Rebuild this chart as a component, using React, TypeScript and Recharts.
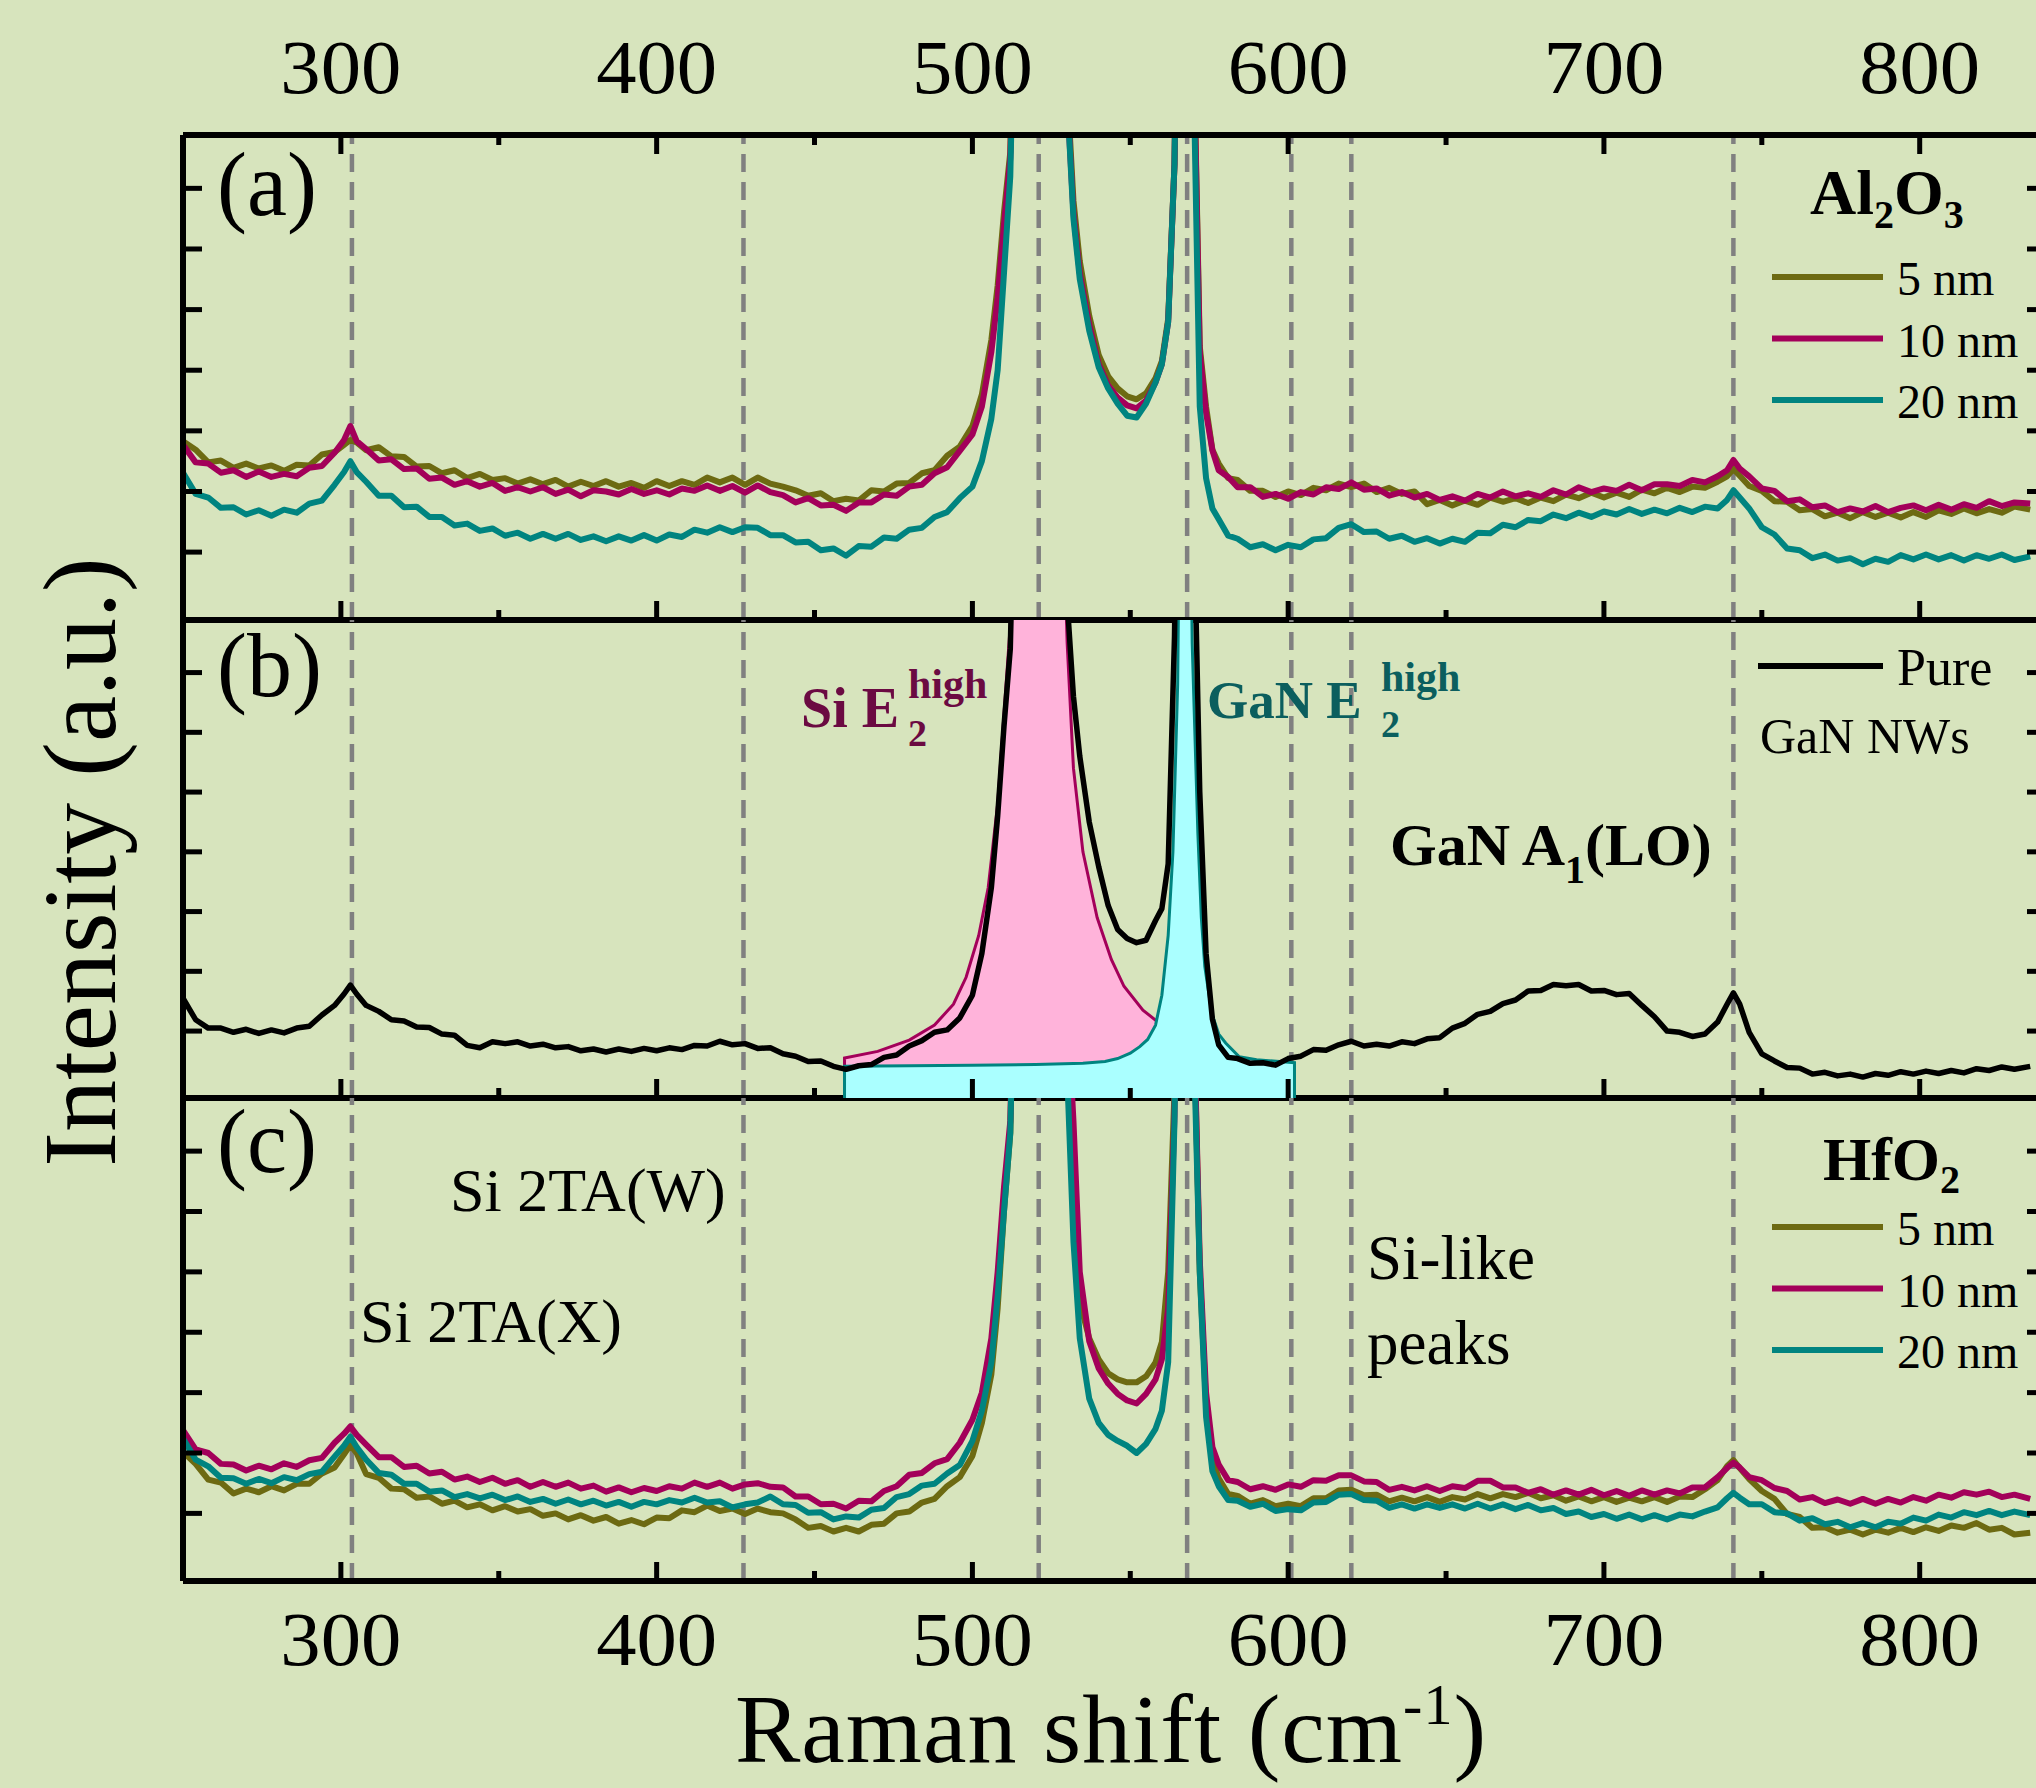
import React from 'react';
import { ComposedChart, Line, Area, XAxis, YAxis, ReferenceLine } from 'recharts';

// Raman shift grid (cm-1) shared by all measured spectra
const RAMAN_SHIFT = [
  250, 254, 258, 262, 266, 270, 274, 278, 282, 286,
  290, 294, 298, 301, 303, 305, 308, 312, 316, 320,
  324, 328, 332, 336, 340, 344, 348, 352, 356, 360,
  364, 368, 372, 376, 380, 384, 388, 392, 396, 400,
  404, 408, 412, 416, 420, 424, 428, 432, 436, 440,
  444, 448, 452, 456, 460, 464, 468, 472, 476, 480,
  484, 488, 492, 496, 500, 503, 506, 508, 510, 512,
  514, 521, 528, 530, 532, 534, 537, 540, 543, 546,
  549, 552, 555, 558, 560, 562, 564, 566, 568, 570,
  572, 574, 576, 578, 581, 584, 588, 592, 596, 600,
  604, 608, 612, 616, 620, 624, 628, 632, 636, 640,
  644, 648, 652, 656, 660, 664, 668, 672, 676, 680,
  684, 688, 692, 696, 700, 704, 708, 712, 716, 720,
  724, 728, 732, 736, 739, 741, 743, 746, 750, 754,
  758, 762, 766, 770, 774, 778, 782, 786, 790, 794,
  798, 802, 806, 810, 814, 818, 822, 826, 830, 835,
];

// (a) Al2O3 coated
const AL2O3_5NM = [
  2.83, 2.69, 2.48, 2.51, 2.39, 2.46, 2.38, 2.43, 2.34, 2.44,
  2.43, 2.61, 2.65, 2.77, 2.85, 2.81, 2.68, 2.73, 2.58, 2.57,
  2.41, 2.42, 2.30, 2.35, 2.22, 2.29, 2.19, 2.22, 2.13, 2.20,
  2.12, 2.19, 2.08, 2.16, 2.09, 2.17, 2.08, 2.14, 2.06, 2.17,
  2.09, 2.17, 2.11, 2.23, 2.15, 2.23, 2.11, 2.23, 2.13, 2.08,
  2.02, 1.93, 1.97, 1.84, 1.88, 1.85, 2.02, 2.00, 2.13, 2.14,
  2.30, 2.35, 2.59, 2.74, 3.08, 3.6, 4.5, 5.4, 6.6, 7.6,
  12, 40, 12, 8.7, 6.8, 5.8, 4.9, 4.25, 3.9, 3.7,
  3.57, 3.52, 3.62, 3.87, 4.15, 4.85, 7.4, 15, 30, 9.6,
  4.4, 3.4, 2.69, 2.46, 2.22, 2.19, 2.01, 2.01, 1.91, 2.00,
  1.94, 2.06, 2.02, 2.13, 2.07, 2.13, 1.99, 2.06, 1.96, 2.00,
  1.79, 1.86, 1.77, 1.85, 1.78, 1.90, 1.83, 1.89, 1.81, 1.90,
  1.84, 1.95, 1.89, 1.98, 1.90, 1.98, 1.91, 2.03, 1.97, 2.06,
  1.99, 2.08, 2.06, 2.16, 2.25, 2.37, 2.26, 2.09, 2.01, 1.84,
  1.83, 1.69, 1.71, 1.59, 1.65, 1.56, 1.66, 1.58, 1.65, 1.57,
  1.66, 1.58, 1.69, 1.63, 1.72, 1.64, 1.71, 1.65, 1.75, 1.70,
];
const AL2O3_10NM = [
  2.77, 2.48, 2.46, 2.31, 2.35, 2.24, 2.33, 2.24, 2.29, 2.25,
  2.39, 2.42, 2.64, 2.85, 3.08, 2.83, 2.70, 2.51, 2.53, 2.37,
  2.38, 2.21, 2.23, 2.11, 2.17, 2.08, 2.14, 2.01, 2.07, 2.00,
  2.07, 1.96, 2.03, 1.92, 2.02, 2.00, 1.95, 2.04, 1.96, 2.02,
  1.95, 2.05, 2.01, 2.10, 2.01, 2.09, 1.98, 2.10, 1.99, 1.94,
  1.82, 1.89, 1.77, 1.78, 1.68, 1.82, 1.82, 1.95, 1.93, 2.08,
  2.11, 2.30, 2.40, 2.67, 2.94, 3.4, 4.3, 5.2, 6.4, 7.5,
  12, 40, 12, 8.5, 6.6, 5.6, 4.75, 4.1, 3.75, 3.55,
  3.42, 3.37, 3.5, 3.8, 4.1, 4.8, 7.4, 15, 30, 9.5,
  4.3, 3.3, 2.68, 2.35, 2.24, 2.07, 2.07, 1.91, 1.96, 1.88,
  1.99, 1.95, 2.07, 2.04, 2.15, 2.03, 2.05, 1.93, 1.99, 1.90,
  1.96, 1.86, 1.92, 1.85, 1.96, 1.90, 2.00, 1.92, 1.97, 1.91,
  2.02, 1.95, 2.07, 1.99, 2.05, 2.01, 2.11, 2.02, 2.12, 2.12,
  2.09, 2.19, 2.15, 2.25, 2.35, 2.52, 2.38, 2.25, 2.05, 2.01,
  1.84, 1.87, 1.74, 1.77, 1.66, 1.72, 1.67, 1.76, 1.66, 1.73,
  1.77, 1.69, 1.78, 1.70, 1.79, 1.73, 1.84, 1.76, 1.82, 1.80,
];
const AL2O3_20NM = [
  2.31, 1.96, 1.90, 1.73, 1.74, 1.62, 1.69, 1.60, 1.70, 1.65,
  1.80, 1.85, 2.11, 2.32, 2.50, 2.32, 2.16, 1.93, 1.93, 1.74,
  1.75, 1.58, 1.58, 1.44, 1.47, 1.35, 1.39, 1.27, 1.32, 1.22,
  1.30, 1.22, 1.30, 1.20, 1.26, 1.18, 1.26, 1.19, 1.28, 1.19,
  1.29, 1.25, 1.37, 1.32, 1.41, 1.33, 1.41, 1.40, 1.28, 1.28,
  1.16, 1.17, 1.03, 1.06, 0.94, 1.10, 1.09, 1.24, 1.22, 1.37,
  1.40, 1.58, 1.66, 1.89, 2.08, 2.5, 3.2, 4.0, 5.6, 7.2,
  12, 40, 12, 8.5, 6.5, 5.5, 4.65, 4.05, 3.7, 3.45,
  3.25, 3.22, 3.45, 3.8, 4.1, 4.8, 7.4, 15, 30, 9.0,
  3.4, 2.22, 1.72, 1.54, 1.27, 1.22, 1.08, 1.13, 1.03, 1.12,
  1.08, 1.21, 1.23, 1.40, 1.46, 1.33, 1.34, 1.22, 1.27, 1.17,
  1.23, 1.14, 1.22, 1.17, 1.32, 1.31, 1.45, 1.41, 1.53, 1.51,
  1.62, 1.56, 1.65, 1.58, 1.67, 1.62, 1.71, 1.63, 1.70, 1.64,
  1.73, 1.66, 1.75, 1.72, 1.86, 2.02, 1.90, 1.72, 1.41, 1.29,
  1.06, 1.03, 0.90, 0.96, 0.86, 0.90, 0.80, 0.89, 0.84, 0.95,
  0.88, 0.96, 0.88, 0.95, 0.86, 0.95, 0.89, 0.96, 0.87, 0.93,
];

// (b) pure GaN nanowires
const PURE_GAN = [
  1.55, 1.19, 1.05, 1.05, 0.98, 1.03, 0.96, 1.02, 0.97, 1.05,
  1.08, 1.27, 1.43, 1.62, 1.77, 1.62, 1.43, 1.33, 1.19, 1.17,
  1.07, 1.06, 0.95, 0.93, 0.76, 0.72, 0.82, 0.79, 0.82, 0.75,
  0.78, 0.72, 0.74, 0.67, 0.70, 0.65, 0.70, 0.66, 0.71, 0.67,
  0.72, 0.69, 0.76, 0.75, 0.83, 0.77, 0.79, 0.71, 0.72, 0.62,
  0.58, 0.49, 0.50, 0.41, 0.36, 0.42, 0.44, 0.56, 0.60, 0.75,
  0.84, 0.98, 1.02, 1.22, 1.60, 2.3, 3.4, 4.6, 6.1, 7.4,
  12, 40, 12, 8.2, 6.6, 5.6, 4.5, 3.75, 3.1, 2.7,
  2.55, 2.48, 2.52, 2.85, 3.05, 3.8, 7.6, 15, 30, 10,
  5.0, 2.3, 1.2, 0.77, 0.56, 0.54, 0.46, 0.47, 0.43, 0.54,
  0.58, 0.69, 0.68, 0.77, 0.83, 0.75, 0.78, 0.75, 0.82, 0.79,
  0.87, 0.89, 1.05, 1.13, 1.28, 1.33, 1.46, 1.52, 1.67, 1.68,
  1.78, 1.76, 1.78, 1.67, 1.68, 1.61, 1.63, 1.43, 1.24, 1.00,
  0.98, 0.91, 0.95, 1.15, 1.45, 1.64, 1.45, 0.98, 0.62, 0.50,
  0.39, 0.38, 0.28, 0.31, 0.25, 0.28, 0.23, 0.29, 0.26, 0.32,
  0.28, 0.33, 0.29, 0.34, 0.30, 0.37, 0.34, 0.40, 0.36, 0.41,
];
// Lorentzian fits drawn in (b)
const SI_FIT_X = [459.5, 459.5, 470, 480, 488, 494, 498, 502, 505, 508, 510, 512, 514, 521, 528, 530, 532, 535, 539.5, 544, 548, 554, 560, 566, 572, 580, 580];
const SI_FIT_Y = [-0.12, 0.55, 0.66, 0.85, 1.1, 1.45, 1.9, 2.6, 3.4, 4.8, 6.3, 7.8, 11, 40, 11, 7.5, 5.4, 4.0, 2.9, 2.2, 1.75, 1.35, 1.1, 0.95, 0.82, 0.7, -0.12];
const GAN_FIT_X = [459.5, 459.5, 480, 500, 520, 535, 542, 546, 550, 553, 555.5, 558, 560, 562, 563.5, 565, 566, 567.3, 568.6, 569.6, 571.4, 572.5, 573.6, 575.8, 578, 580.2, 584.5, 590, 602, 602];
const GAN_FIT_Y = [-0.12, 0.41, 0.42, 0.43, 0.44, 0.46, 0.49, 0.54, 0.63, 0.74, 0.86, 1.1, 1.6, 2.6, 4.0, 6.8, 12, 40, 12, 7.5, 4.31, 2.9, 2.08, 1.30, 0.95, 0.80, 0.57, 0.52, 0.47, -0.12];

// (c) HfO2 coated
const HFO2_5NM = [
  2.02, 1.82, 1.56, 1.51, 1.33, 1.41, 1.35, 1.45, 1.38, 1.49,
  1.49, 1.66, 1.76, 1.98, 2.13, 2.00, 1.65, 1.59, 1.41, 1.40,
  1.26, 1.28, 1.16, 1.21, 1.10, 1.15, 1.05, 1.12, 1.03, 1.07,
  0.96, 1.00, 0.90, 0.97, 0.88, 0.94, 0.83, 0.89, 0.82, 0.93,
  0.92, 1.05, 1.02, 1.13, 1.04, 1.08, 0.99, 1.08, 1.02, 1.00,
  0.90, 0.76, 0.79, 0.70, 0.76, 0.70, 0.81, 0.83, 1.00, 1.03,
  1.18, 1.24, 1.45, 1.60, 1.95, 2.5, 3.3, 4.4, 6.0, 7.3,
  12, 40, 12, 8.5, 6.0, 4.5, 3.9, 3.55, 3.32, 3.22,
  3.17, 3.17, 3.27, 3.5, 3.84, 5.0, 8.0, 15, 30, 9.5,
  5.0, 2.8, 1.9, 1.58, 1.32, 1.29, 1.16, 1.22, 1.12, 1.16,
  1.12, 1.25, 1.25, 1.38, 1.39, 1.30, 1.31, 1.20, 1.26, 1.20,
  1.27, 1.19, 1.27, 1.23, 1.32, 1.25, 1.32, 1.27, 1.34, 1.25,
  1.30, 1.21, 1.28, 1.20, 1.27, 1.19, 1.26, 1.20, 1.27, 1.19,
  1.28, 1.27, 1.40, 1.55, 1.78, 1.88, 1.75, 1.57, 1.37, 1.24,
  0.99, 0.94, 0.76, 0.77, 0.68, 0.73, 0.65, 0.73, 0.68, 0.76,
  0.69, 0.77, 0.71, 0.80, 0.76, 0.84, 0.73, 0.76, 0.65, 0.68,
];
const HFO2_10NM = [
  2.38, 2.06, 2.00, 1.82, 1.81, 1.71, 1.79, 1.73, 1.83, 1.77,
  1.88, 1.92, 2.17, 2.32, 2.44, 2.30, 2.14, 1.93, 1.93, 1.77,
  1.79, 1.66, 1.69, 1.56, 1.61, 1.52, 1.59, 1.49, 1.55, 1.44,
  1.52, 1.44, 1.51, 1.41, 1.46, 1.36, 1.43, 1.35, 1.42, 1.37,
  1.45, 1.41, 1.51, 1.44, 1.51, 1.41, 1.48, 1.50, 1.44, 1.43,
  1.28, 1.28, 1.15, 1.16, 1.08, 1.21, 1.20, 1.37, 1.45, 1.64,
  1.67, 1.83, 1.90, 2.17, 2.55, 3.0, 3.9, 5.0, 6.4, 7.5,
  12, 40, 12, 9.5, 7.5, 5.0, 3.85, 3.4, 3.15, 2.98,
  2.87, 2.82, 2.98, 3.22, 3.55, 4.4, 7.6, 15, 30, 9.5,
  5.2, 3.0, 2.1, 1.81, 1.55, 1.52, 1.40, 1.45, 1.39, 1.48,
  1.44, 1.55, 1.54, 1.63, 1.63, 1.53, 1.52, 1.39, 1.44, 1.38,
  1.45, 1.37, 1.45, 1.42, 1.54, 1.54, 1.43, 1.43, 1.34, 1.40,
  1.31, 1.38, 1.31, 1.39, 1.30, 1.37, 1.29, 1.38, 1.31, 1.38,
  1.33, 1.43, 1.43, 1.60, 1.75, 1.84, 1.76, 1.60, 1.55, 1.42,
  1.37, 1.23, 1.27, 1.17, 1.23, 1.16, 1.24, 1.16, 1.24, 1.18,
  1.27, 1.21, 1.31, 1.26, 1.35, 1.31, 1.36, 1.27, 1.31, 1.24,
];
const HFO2_20NM = [
  2.24, 1.89, 1.78, 1.59, 1.58, 1.49, 1.57, 1.50, 1.60, 1.55,
  1.65, 1.69, 1.94, 2.12, 2.27, 2.10, 1.89, 1.67, 1.64, 1.49,
  1.49, 1.36, 1.38, 1.27, 1.32, 1.25, 1.31, 1.22, 1.28, 1.19,
  1.24, 1.16, 1.23, 1.15, 1.21, 1.13, 1.19, 1.11, 1.19, 1.15,
  1.22, 1.18, 1.26, 1.18, 1.20, 1.10, 1.15, 1.18, 1.28, 1.15,
  1.14, 1.01, 1.02, 0.90, 0.95, 0.93, 1.06, 1.09, 1.27, 1.32,
  1.46, 1.49, 1.66, 1.80, 2.2, 2.7, 3.5, 4.6, 6.0, 7.3,
  12, 40, 12, 8.3, 5.5, 3.9, 2.9, 2.5, 2.3, 2.2,
  2.12, 2.0, 2.15, 2.4, 2.7, 3.5, 7.5, 15, 30, 9.0,
  5.0, 2.6, 1.7, 1.45, 1.22, 1.21, 1.11, 1.16, 1.04, 1.07,
  1.05, 1.18, 1.19, 1.31, 1.32, 1.22, 1.21, 1.09, 1.15, 1.08,
  1.15, 1.09, 1.15, 1.08, 1.16, 1.08, 1.15, 1.07, 1.14, 1.05,
  1.09, 0.99, 1.03, 0.94, 0.99, 0.91, 0.98, 0.90, 0.97, 0.90,
  0.98, 0.95, 1.03, 1.10, 1.25, 1.34, 1.26, 1.15, 1.15, 1.02,
  1.00, 0.88, 0.92, 0.82, 0.86, 0.77, 0.84, 0.77, 0.86, 0.83,
  0.93, 0.88, 0.98, 0.93, 1.02, 0.97, 1.04, 0.97, 1.03, 0.97,
];

const X_TICKS = [300, 350, 400, 450, 500, 550, 600, 650, 700, 750, 800];
const Y_TICKS = [1, 2, 3, 4, 5, 6, 7];
const X_DOMAIN: [number, number] = [250, 840];
const Y_DOMAIN: [number, number] = [-0.12, 7.88];
const PEAK_LINES = [303.5, 427.5, 521, 568, 601, 620, 741];
const THICKNESS = ['5 nm', '10 nm', '20 nm'];

const BG = '#d7e4bd';
const C5 = '#6d6a12';
const C10 = '#a3005a';
const C20 = '#008480';
const SERIES_COLORS = [C5, C10, C20];
const FONT = "'Liberation Serif', 'Times New Roman', serif";

const rowsA = RAMAN_SHIFT.map((x, i) => ({ x, s5: AL2O3_5NM[i], s10: AL2O3_10NM[i], s20: AL2O3_20NM[i] }));
const rowsB = RAMAN_SHIFT.map((x, i) => ({ x, pure: PURE_GAN[i] }));
const rowsC = RAMAN_SHIFT.map((x, i) => ({ x, s5: HFO2_5NM[i], s10: HFO2_10NM[i], s20: HFO2_20NM[i] }));
const siFit = SI_FIT_X.map((x, i) => ({ x, y: SI_FIT_Y[i] }));
const ganFit = GAN_FIT_X.map((x, i) => ({ x, y: GAN_FIT_Y[i] }));

const XTick = (props: any) => {
  const { x, y, payload, side, labels } = props;
  const v = payload.value;
  const major = v % 100 === 0;
  const len = major ? 19 : 10;
  const dir = side === 'top' ? 1 : -1;
  return (
    <g>
      <line x1={x} y1={y} x2={x} y2={y + dir * len} stroke="#000" strokeWidth={5} />
      {labels && major ? (
        <text x={x} y={side === 'top' ? y - 42 : y + 84} textAnchor="middle" fontFamily={FONT} fontSize={76} fill="#000"
          textLength={121} lengthAdjust="spacingAndGlyphs">
          {v}
        </text>
      ) : null}
    </g>
  );
};

const YTick = (props: any) => {
  const { x, y, side } = props;
  const dir = side === 'left' ? 1 : -1;
  return <line x1={x} y1={y} x2={x + dir * 19} y2={y} stroke="#000" strokeWidth={5} />;
};

const axisLine = { stroke: '#000', strokeWidth: 6 };

const frameAxes = (topAxis: boolean, topLabels: boolean, bottomLabels: boolean) => {
  const list = [
    <XAxis key="xb" xAxisId={0} type="number" dataKey="x" domain={X_DOMAIN} allowDataOverflow ticks={X_TICKS} interval={0}
      height={1} tickSize={0} tickMargin={0} tickLine={false} axisLine={axisLine}
      tick={<XTick side="bottom" labels={bottomLabels} />} />,
    <YAxis key="yl" yAxisId={0} type="number" domain={Y_DOMAIN} allowDataOverflow ticks={Y_TICKS} interval={0}
      width={1} tickSize={0} tickMargin={0} tickLine={false} axisLine={axisLine} tick={<YTick side="left" />} />,
    <YAxis key="yr" yAxisId="r" orientation="right" type="number" domain={Y_DOMAIN} allowDataOverflow ticks={Y_TICKS} interval={0}
      width={1} tickSize={0} tickMargin={0} tickLine={false} axisLine={axisLine} tick={<YTick side="right" />} />,
  ];
  if (topAxis) {
    list.push(
      <XAxis key="xt" xAxisId="top" orientation="top" type="number" dataKey="x" domain={X_DOMAIN} allowDataOverflow ticks={X_TICKS} interval={0}
        height={1} tickSize={0} tickMargin={0} tickLine={false} axisLine={axisLine}
        tick={<XTick side="top" labels={topLabels} />} />
    );
  }
  return list;
};

const peakLines = () =>
  PEAK_LINES.map((p) => (
    <ReferenceLine key={`p${p}`} x={p} xAxisId={0} yAxisId={0} stroke="#808080" strokeWidth={4.5} strokeDasharray="18 10" zIndex={50} />
  ));

const spectra = () =>
  ['s5', 's10', 's20'].map((k, i) => (
    <Line key={k} xAxisId={0} yAxisId={0} type="linear" dataKey={k} stroke={SERIES_COLORS[i]} strokeWidth={6}
      dot={false} activeDot={false} isAnimationActive={false} strokeLinejoin="round" />
  ));

const LegendItems = ({ y }: { y: number }) => (
  <g>
    {THICKNESS.map((t, i) => (
      <g key={t}>
        <line x1={1772} x2={1883} y1={y + 61 + i * 61.5} y2={y + 61 + i * 61.5} stroke={SERIES_COLORS[i]} strokeWidth={6} />
        <text x={1897} y={y + 79 + i * 61.5} fontFamily={FONT} fontSize={48} fill="#000">{t}</text>
      </g>
    ))}
  </g>
);

export default function App() {
  return (
    <div style={{ position: 'absolute', left: 0, top: 0, width: 2036, height: 1788, background: BG, overflow: 'hidden' }}>
      <div style={{ position: 'absolute', left: 0, top: 0, width: 2036, height: 640, overflow: 'hidden' }}>
        <ComposedChart width={2060} height={640} data={rowsA} margin={{ top: 134, right: 13, bottom: 19, left: 182 }}>
          {frameAxes(true, true, false)}
          {peakLines()}
          {spectra()}
        </ComposedChart>
      </div>
      <div style={{ position: 'absolute', left: 0, top: 600, width: 2036, height: 520, overflow: 'hidden' }}>
        <ComposedChart width={2060} height={520} data={rowsB} margin={{ top: 20, right: 13, bottom: 21, left: 182 }}>
          {frameAxes(false, false, false)}
          {peakLines()}
          <Area xAxisId={0} yAxisId={0} data={siFit} type="linear" dataKey="y" baseValue="dataMin" stroke={C10} strokeWidth={3}
            fill="#ffb3da" fillOpacity={1} dot={false} activeDot={false} isAnimationActive={false} zIndex={600} />
          <Area xAxisId={0} yAxisId={0} data={ganFit} type="linear" dataKey="y" baseValue="dataMin" stroke={C20} strokeWidth={3}
            fill="#aaffff" fillOpacity={1} dot={false} activeDot={false} isAnimationActive={false} zIndex={610} />
          <Line xAxisId={0} yAxisId={0} type="linear" dataKey="pure" stroke="#000" strokeWidth={5.5} dot={false} activeDot={false}
            isAnimationActive={false} strokeLinejoin="round" zIndex={700} />
        </ComposedChart>
      </div>
      <div style={{ position: 'absolute', left: 0, top: 1078, width: 2036, height: 710, overflow: 'hidden' }}>
        <ComposedChart width={2060} height={710} data={rowsC} margin={{ top: 20, right: 13, bottom: 206, left: 182 }}>
          {frameAxes(false, false, true)}
          {peakLines()}
          {spectra()}
        </ComposedChart>
      </div>

      <svg width={2036} height={1788} style={{ position: 'absolute', left: 0, top: 0, pointerEvents: 'none' }}>
        <g fontFamily={FONT} fill="#000">
          <text x={217} y={215} fontSize={90}>(a)</text>
          <text x={217} y={696} fontSize={90}>(b)</text>
          <text x={217} y={1172} fontSize={90}>(c)</text>

          <text transform="translate(115, 862) rotate(-90)" textAnchor="middle" fontSize={104}>Intensity (a.u.)</text>
          <text x={1111} y={1762} textAnchor="middle" fontSize={98} letterSpacing={1}>
            Raman shift (cm<tspan fontSize={58} dy={-38}>-1</tspan><tspan dy={38}>)</tspan>
          </text>

          <text x={801} y={727} fontWeight="bold" fontSize={56} fill="#6b0a42">Si E</text>
          <text x={908} y={698} fontWeight="bold" fontSize={42} fill="#6b0a42">high</text>
          <text x={908} y={746} fontWeight="bold" fontSize={38} fill="#6b0a42">2</text>

          <text x={1207} y={718} fontWeight="bold" fontSize={53} fill="#0b5e5e">GaN E</text>
          <text x={1381} y={691} fontWeight="bold" fontSize={42} fill="#0b5e5e">high</text>
          <text x={1381} y={737} fontWeight="bold" fontSize={38} fill="#0b5e5e">2</text>

          <text x={1390} y={865} fontWeight="bold" fontSize={60}>
            GaN A<tspan fontSize={40} dy={18}>1</tspan><tspan dy={-18}>(LO)</tspan>
          </text>

          <text x={450} y={1211} fontSize={62}>Si 2TA(W)</text>
          <text x={360} y={1342} fontSize={62}>Si 2TA(X)</text>
          <text x={1367} y={1279} fontSize={63}>Si-like</text>
          <text x={1367} y={1364} fontSize={63}>peaks</text>

          <text x={1810} y={214} fontWeight="bold" fontSize={64}>
            Al<tspan fontSize={40} dy={14}>2</tspan><tspan dy={-14}>O</tspan><tspan fontSize={40} dy={14}>3</tspan>
          </text>
          <text x={1823} y={1180} fontWeight="bold" fontSize={62}>
            HfO<tspan fontSize={40} dy={13}>2</tspan>
          </text>

          <line x1={1758} x2={1883} y1={666} y2={666} stroke="#000" strokeWidth={6} />
          <text x={1897} y={685} fontSize={52}>Pure</text>
          <text x={1760} y={753} fontSize={50}>GaN NWs</text>
        </g>
        <LegendItems y={216} />
        <LegendItems y={1166} />
      </svg>
    </div>
  );
}
